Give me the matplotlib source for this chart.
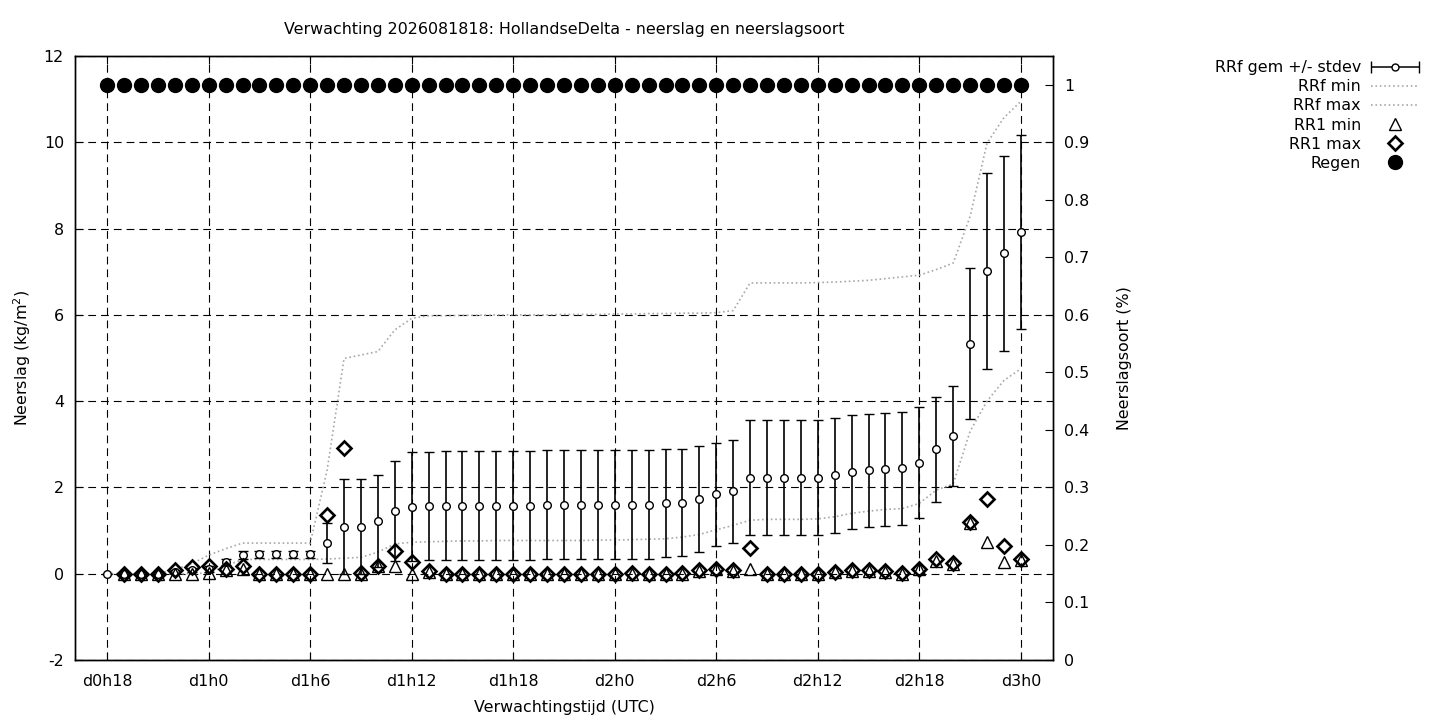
import numpy as np
import matplotlib
matplotlib.use('Agg')
from matplotlib import pyplot as plt
from matplotlib.legend_handler import HandlerErrorbar
from matplotlib.container import ErrorbarContainer

# forecast lead time in hours after d0h18
lead_hours = list(range(55))
tick_hours = [0, 6, 12, 18, 24, 30, 36, 42, 48, 54]
tick_names = ['d0h18', 'd1h0', 'd1h6', 'd1h12', 'd1h18', 'd2h0', 'd2h6', 'd2h12', 'd2h18', 'd3h0']

rrf_mean = [0.0, 0.0, 0.0, 0.0, 0.05, 0.08, 0.12, 0.27, 0.43, 0.45,
            0.45, 0.45, 0.45, 0.71, 1.09, 1.09, 1.22, 1.46, 1.55, 1.57,
            1.58, 1.58, 1.58, 1.58, 1.58, 1.58, 1.60, 1.60, 1.60, 1.60,
            1.60, 1.60, 1.60, 1.63, 1.65, 1.73, 1.84, 1.91, 2.23, 2.23,
            2.23, 2.23, 2.23, 2.28, 2.36, 2.40, 2.42, 2.44, 2.57, 2.88,
            3.19, 5.33, 7.02, 7.43, 7.92]
rrf_std = [0.0, 0.0, 0.0, 0.0, 0.03, 0.05, 0.07, 0.07, 0.10, 0.08,
           0.08, 0.08, 0.08, 0.47, 1.10, 1.10, 1.07, 1.16, 1.26, 1.25,
           1.26, 1.26, 1.26, 1.26, 1.26, 1.26, 1.26, 1.26, 1.26, 1.26,
           1.26, 1.26, 1.26, 1.25, 1.25, 1.22, 1.19, 1.20, 1.34, 1.34,
           1.34, 1.34, 1.34, 1.33, 1.33, 1.31, 1.31, 1.30, 1.29, 1.21,
           1.16, 1.75, 2.27, 2.26, 2.24]
rrf_min = [0.0, 0.0, 0.0, 0.0, 0.0, 0.0, 0.02, 0.18, 0.33, 0.33,
           0.33, 0.33, 0.33, 0.34, 0.36, 0.38, 0.50, 0.69, 0.73, 0.74,
           0.75, 0.76, 0.76, 0.77, 0.77, 0.77, 0.77, 0.77, 0.77, 0.78,
           0.78, 0.79, 0.80, 0.81, 0.85, 0.91, 1.02, 1.12, 1.24, 1.26,
           1.26, 1.26, 1.27, 1.32, 1.40, 1.45, 1.49, 1.51, 1.63, 1.94,
           2.08, 3.30, 4.00, 4.48, 4.75]
rrf_max = [0.0, 0.0, 0.0, 0.0, 0.10, 0.23, 0.43, 0.58, 0.71, 0.71,
           0.71, 0.71, 0.71, 2.40, 4.99, 5.07, 5.15, 5.65, 5.92, 5.98,
           5.98, 5.99, 5.99, 6.00, 6.00, 6.00, 6.00, 6.01, 6.01, 6.01,
           6.02, 6.02, 6.03, 6.03, 6.04, 6.04, 6.05, 6.10, 6.74, 6.74,
           6.74, 6.74, 6.75, 6.76, 6.78, 6.80, 6.84, 6.88, 6.92, 7.05,
           7.20, 8.28, 9.98, 10.57, 10.95]
rr1_min = [np.nan, 0.0, 0.0, 0.0, 0.0, 0.0, 0.02, 0.08, 0.12, 0.0,
           0.0, 0.0, 0.0, 0.0, 0.0, 0.0, 0.18, 0.17, 0.0, 0.04,
           0.0, 0.0, 0.0, 0.0, 0.0, 0.0, 0.0, 0.0, 0.0, 0.0,
           0.0, 0.0, 0.0, 0.0, 0.0, 0.06, 0.10, 0.06, 0.12, 0.0,
           0.0, 0.0, 0.0, 0.03, 0.06, 0.06, 0.03, 0.0, 0.10, 0.30,
           0.22, 1.18, 0.74, 0.27, 0.32]
rr1_max = [np.nan, 0.0, 0.0, 0.0, 0.09, 0.15, 0.17, 0.11, 0.18, 0.0,
           0.0, 0.0, 0.0, 1.35, 2.92, 0.02, 0.19, 0.53, 0.28, 0.07,
           0.0, 0.0, 0.0, 0.0, 0.0, 0.0, 0.0, 0.0, 0.0, 0.0,
           0.0, 0.01, 0.0, 0.0, 0.01, 0.09, 0.12, 0.08, 0.60, 0.0,
           0.0, 0.0, 0.0, 0.05, 0.08, 0.08, 0.06, 0.02, 0.12, 0.33,
           0.25, 1.20, 1.73, 0.64, 0.35]
regen = [1.0] * 55

plt.rcParams['font.family'] = 'DejaVu Sans'
plt.rcParams['font.size'] = 11.4
plt.rcParams['axes.unicode_minus'] = False

fig = plt.figure(figsize=(14.4, 7.2), dpi=100)
ax = fig.add_axes([75 / 1440, 60 / 720, 978 / 1440, 604 / 720])
ax2 = ax.twinx()

ax.grid(True, color='black', linestyle=(0, (7, 4.5)), linewidth=0.8)
ax.set_axisbelow(True)

ax.errorbar(lead_hours, rrf_mean, yerr=rrf_std, fmt='o', color='black',
            ms=5.5, mfc='white', mec='black', mew=1, elinewidth=1.2,
            capsize=3.3, capthick=1.2, zorder=3)
l_min, = ax.plot(lead_hours, rrf_min, linestyle=':', color='#a8a8a8', lw=1.2, zorder=2, label='RRf min')
l_max, = ax.plot(lead_hours, rrf_max, linestyle=':', color='#a8a8a8', lw=1.2, zorder=2, label='RRf max')
l_tri, = ax.plot(lead_hours, rr1_min, linestyle='none', marker='^', ms=8.5, mfc='none',
                 mec='black', mew=1, zorder=4, label='RR1 min')
l_dia, = ax.plot(lead_hours, rr1_max, linestyle='none', marker='D', ms=7, mfc='none',
                 mec='black', mew=1.9, zorder=5, label='RR1 max')
l_reg, = ax2.plot(lead_hours, regen, linestyle='none', marker='o', ms=10, color='black',
                  label='Regen')

# legend proxy for the errorbar sample (horizontal bar with end caps)
proxy = ax.errorbar([np.nan], [np.nan], xerr=[1], fmt='o', color='black', ms=5,
                    mfc='white', mec='black', mew=1, elinewidth=1.1, capsize=4, capthick=1.1)

ax.set_xlim(-1.9, 55.9)
ax.set_ylim(-2, 12)
ax.set_yticks(range(-2, 13, 2))
ax.set_xticks(tick_hours)
ax.set_xticklabels(tick_names)
ax2.set_ylim(0, 1.05)
ax2.set_yticks([0, 0.1, 0.2, 0.3, 0.4, 0.5, 0.6, 0.7, 0.8, 0.9, 1.0])
ax2.set_yticklabels(['0', '0.1', '0.2', '0.3', '0.4', '0.5', '0.6', '0.7', '0.8', '0.9', '1'])

ax.tick_params(axis='x', direction='in', length=6, top=True, pad=10)
ax.tick_params(axis='y', direction='in', length=6, right=False, pad=8)
ax2.tick_params(axis='y', direction='in', length=6, pad=8)
for a in (ax, ax2):
    for s in a.spines.values():
        s.set_linewidth(1.0)

ax.set_xlabel('Verwachtingstijd (UTC)', labelpad=8)
ax.set_ylabel('Neerslag (kg/m$^2$)', labelpad=8)
ax2.set_ylabel('Neerslagsoort (%)', labelpad=20)
ax.set_title('Verwachting 2026081818: HollandseDelta - neerslag en neerslagsoort',
             fontsize=11.4, pad=16)

fig.legend([proxy, l_min, l_max, l_tri, l_dia, l_reg],
           ['RRf gem +/- stdev', 'RRf min', 'RRf max', 'RR1 min', 'RR1 max', 'Regen'],
           loc='upper right', bbox_to_anchor=(1433 / 1440, 1 - 46 / 720),
           bbox_transform=fig.transFigure, frameon=False, markerfirst=False,
           handlelength=3.0, handletextpad=0.65, labelspacing=0.26, numpoints=1,
           handler_map={ErrorbarContainer: HandlerErrorbar(xerr_size=1.5)})

fig.savefig('out.png', dpi=100)
